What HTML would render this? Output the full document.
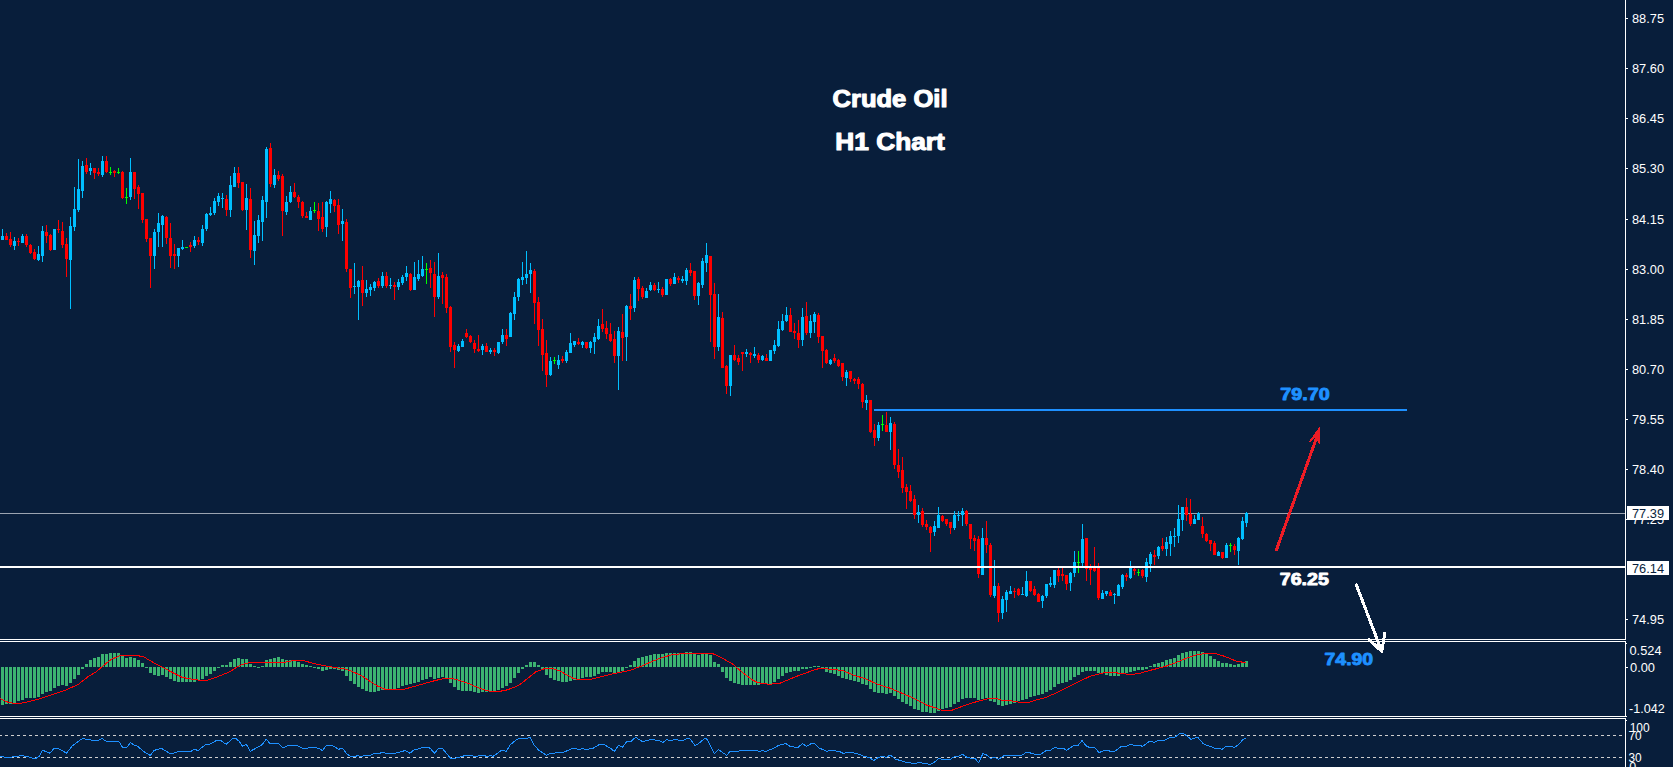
<!DOCTYPE html>
<html lang="en"><head><meta charset="utf-8"><title>Crude Oil H1 Chart</title>
<style>
html,body{margin:0;padding:0;background:#081e3b;overflow:hidden}
svg{display:block}
text{font-family:"Liberation Sans",sans-serif}
.ax{font-size:12.5px;fill:#fff}
.axd{font-size:12.5px;fill:#0a1f3c}
.hv{font-weight:bold;stroke-linejoin:round}
</style></head><body>
<svg width="1673" height="767" viewBox="0 0 1673 767">
<rect width="1673" height="767" fill="#081e3b"/>
<rect x="0" y="513" width="1625" height="1" fill="#9ba4b1" shape-rendering="crispEdges"/>
<g fill="#00bfff" shape-rendering="crispEdges">
<rect x="2" y="229" width="1" height="11"/>
<rect x="1" y="236" width="3" height="4"/>
<rect x="14" y="237" width="1" height="13"/>
<rect x="13" y="241" width="3" height="5"/>
<rect x="22" y="234" width="1" height="9"/>
<rect x="21" y="236" width="3" height="7"/>
<rect x="38" y="246" width="1" height="15"/>
<rect x="37" y="254" width="3" height="6"/>
<rect x="42" y="226" width="1" height="36"/>
<rect x="41" y="231" width="3" height="25"/>
<rect x="53" y="229" width="3" height="21"/>
<rect x="70" y="217" width="1" height="92"/>
<rect x="69" y="226" width="3" height="34"/>
<rect x="74" y="187" width="1" height="44"/>
<rect x="73" y="209" width="3" height="18"/>
<rect x="78" y="159" width="1" height="53"/>
<rect x="77" y="189" width="3" height="21"/>
<rect x="82" y="161" width="1" height="37"/>
<rect x="81" y="166" width="3" height="25"/>
<rect x="90" y="163" width="1" height="12"/>
<rect x="89" y="168" width="3" height="3"/>
<rect x="102" y="156" width="1" height="21"/>
<rect x="101" y="161" width="3" height="14"/>
<rect x="130" y="158" width="1" height="42"/>
<rect x="129" y="172" width="3" height="25"/>
<rect x="154" y="229" width="1" height="40"/>
<rect x="153" y="232" width="3" height="24"/>
<rect x="158" y="213" width="1" height="34"/>
<rect x="157" y="223" width="3" height="9"/>
<rect x="162" y="215" width="1" height="32"/>
<rect x="161" y="216" width="3" height="9"/>
<rect x="178" y="248" width="1" height="19"/>
<rect x="177" y="248" width="3" height="8"/>
<rect x="182" y="240" width="1" height="10"/>
<rect x="181" y="247" width="3" height="2"/>
<rect x="194" y="236" width="1" height="12"/>
<rect x="193" y="240" width="3" height="6"/>
<rect x="202" y="225" width="1" height="21"/>
<rect x="201" y="229" width="3" height="14"/>
<rect x="206" y="213" width="1" height="18"/>
<rect x="205" y="214" width="3" height="15"/>
<rect x="210" y="207" width="1" height="9"/>
<rect x="209" y="213" width="3" height="2"/>
<rect x="214" y="198" width="1" height="17"/>
<rect x="213" y="201" width="3" height="12"/>
<rect x="218" y="193" width="1" height="13"/>
<rect x="217" y="196" width="3" height="6"/>
<rect x="222" y="193" width="1" height="15"/>
<rect x="221" y="198" width="3" height="1"/>
<rect x="230" y="176" width="1" height="41"/>
<rect x="229" y="185" width="3" height="25"/>
<rect x="234" y="167" width="1" height="20"/>
<rect x="233" y="173" width="3" height="14"/>
<rect x="246" y="184" width="1" height="46"/>
<rect x="245" y="198" width="3" height="12"/>
<rect x="254" y="221" width="1" height="44"/>
<rect x="253" y="235" width="3" height="16"/>
<rect x="258" y="215" width="1" height="28"/>
<rect x="257" y="220" width="3" height="16"/>
<rect x="262" y="196" width="1" height="45"/>
<rect x="261" y="200" width="3" height="22"/>
<rect x="266" y="147" width="1" height="71"/>
<rect x="265" y="149" width="3" height="53"/>
<rect x="274" y="169" width="1" height="19"/>
<rect x="273" y="175" width="3" height="10"/>
<rect x="286" y="196" width="1" height="19"/>
<rect x="285" y="202" width="3" height="10"/>
<rect x="290" y="186" width="1" height="17"/>
<rect x="289" y="192" width="3" height="10"/>
<rect x="310" y="207" width="1" height="13"/>
<rect x="309" y="211" width="3" height="9"/>
<rect x="326" y="201" width="1" height="36"/>
<rect x="325" y="202" width="3" height="25"/>
<rect x="330" y="191" width="1" height="22"/>
<rect x="329" y="199" width="3" height="5"/>
<rect x="342" y="209" width="1" height="32"/>
<rect x="341" y="221" width="3" height="3"/>
<rect x="354" y="263" width="1" height="31"/>
<rect x="353" y="286" width="3" height="1"/>
<rect x="358" y="280" width="1" height="40"/>
<rect x="357" y="281" width="3" height="6"/>
<rect x="366" y="280" width="1" height="17"/>
<rect x="365" y="289" width="3" height="4"/>
<rect x="370" y="284" width="1" height="12"/>
<rect x="369" y="287" width="3" height="3"/>
<rect x="374" y="281" width="1" height="10"/>
<rect x="373" y="282" width="3" height="6"/>
<rect x="382" y="272" width="1" height="16"/>
<rect x="381" y="276" width="3" height="10"/>
<rect x="390" y="278" width="1" height="11"/>
<rect x="389" y="285" width="3" height="1"/>
<rect x="398" y="279" width="1" height="11"/>
<rect x="397" y="282" width="3" height="5"/>
<rect x="402" y="275" width="1" height="10"/>
<rect x="401" y="277" width="3" height="6"/>
<rect x="406" y="266" width="1" height="15"/>
<rect x="405" y="273" width="3" height="4"/>
<rect x="414" y="262" width="1" height="28"/>
<rect x="413" y="277" width="3" height="13"/>
<rect x="418" y="260" width="1" height="21"/>
<rect x="417" y="274" width="3" height="5"/>
<rect x="422" y="256" width="1" height="21"/>
<rect x="421" y="269" width="3" height="7"/>
<rect x="438" y="253" width="1" height="46"/>
<rect x="437" y="276" width="3" height="21"/>
<rect x="458" y="344" width="1" height="8"/>
<rect x="457" y="346" width="3" height="5"/>
<rect x="462" y="339" width="1" height="8"/>
<rect x="461" y="341" width="3" height="6"/>
<rect x="482" y="344" width="1" height="11"/>
<rect x="481" y="346" width="3" height="4"/>
<rect x="490" y="348" width="1" height="6"/>
<rect x="489" y="350" width="3" height="2"/>
<rect x="498" y="342" width="1" height="12"/>
<rect x="497" y="342" width="3" height="11"/>
<rect x="502" y="329" width="1" height="15"/>
<rect x="501" y="335" width="3" height="7"/>
<rect x="510" y="312" width="1" height="25"/>
<rect x="509" y="313" width="3" height="24"/>
<rect x="514" y="292" width="1" height="28"/>
<rect x="513" y="297" width="3" height="17"/>
<rect x="518" y="278" width="1" height="23"/>
<rect x="517" y="279" width="3" height="18"/>
<rect x="522" y="262" width="1" height="23"/>
<rect x="521" y="277" width="3" height="3"/>
<rect x="526" y="251" width="1" height="33"/>
<rect x="525" y="274" width="3" height="4"/>
<rect x="530" y="263" width="1" height="30"/>
<rect x="529" y="270" width="3" height="4"/>
<rect x="550" y="357" width="1" height="19"/>
<rect x="549" y="361" width="3" height="14"/>
<rect x="558" y="355" width="1" height="14"/>
<rect x="557" y="360" width="3" height="5"/>
<rect x="566" y="350" width="1" height="13"/>
<rect x="565" y="352" width="3" height="9"/>
<rect x="570" y="333" width="1" height="20"/>
<rect x="569" y="343" width="3" height="10"/>
<rect x="574" y="341" width="1" height="6"/>
<rect x="573" y="341" width="3" height="4"/>
<rect x="582" y="341" width="1" height="7"/>
<rect x="581" y="342" width="3" height="3"/>
<rect x="590" y="341" width="1" height="12"/>
<rect x="589" y="342" width="3" height="6"/>
<rect x="594" y="333" width="1" height="21"/>
<rect x="593" y="337" width="3" height="5"/>
<rect x="598" y="319" width="1" height="21"/>
<rect x="597" y="326" width="3" height="13"/>
<rect x="618" y="327" width="1" height="63"/>
<rect x="617" y="331" width="3" height="25"/>
<rect x="626" y="305" width="1" height="56"/>
<rect x="625" y="306" width="3" height="31"/>
<rect x="634" y="277" width="1" height="35"/>
<rect x="633" y="280" width="3" height="28"/>
<rect x="646" y="288" width="1" height="10"/>
<rect x="645" y="291" width="3" height="7"/>
<rect x="650" y="282" width="1" height="9"/>
<rect x="649" y="285" width="3" height="5"/>
<rect x="658" y="282" width="1" height="11"/>
<rect x="657" y="289" width="3" height="1"/>
<rect x="665" y="279" width="3" height="16"/>
<rect x="674" y="273" width="1" height="11"/>
<rect x="673" y="277" width="3" height="7"/>
<rect x="682" y="276" width="1" height="7"/>
<rect x="681" y="279" width="3" height="2"/>
<rect x="686" y="268" width="1" height="17"/>
<rect x="685" y="270" width="3" height="11"/>
<rect x="698" y="282" width="1" height="23"/>
<rect x="697" y="283" width="3" height="13"/>
<rect x="702" y="258" width="1" height="30"/>
<rect x="701" y="261" width="3" height="24"/>
<rect x="706" y="243" width="1" height="29"/>
<rect x="705" y="255" width="3" height="8"/>
<rect x="718" y="294" width="1" height="57"/>
<rect x="717" y="317" width="3" height="30"/>
<rect x="730" y="355" width="1" height="41"/>
<rect x="729" y="355" width="3" height="31"/>
<rect x="746" y="349" width="1" height="8"/>
<rect x="745" y="352" width="3" height="2"/>
<rect x="754" y="347" width="1" height="11"/>
<rect x="753" y="354" width="3" height="2"/>
<rect x="762" y="355" width="1" height="6"/>
<rect x="761" y="356" width="3" height="4"/>
<rect x="769" y="350" width="3" height="11"/>
<rect x="774" y="340" width="1" height="14"/>
<rect x="773" y="345" width="3" height="6"/>
<rect x="778" y="321" width="1" height="26"/>
<rect x="777" y="329" width="3" height="17"/>
<rect x="782" y="314" width="1" height="17"/>
<rect x="781" y="321" width="3" height="9"/>
<rect x="786" y="307" width="1" height="15"/>
<rect x="785" y="315" width="3" height="6"/>
<rect x="802" y="308" width="1" height="38"/>
<rect x="801" y="317" width="3" height="23"/>
<rect x="810" y="315" width="1" height="23"/>
<rect x="809" y="321" width="3" height="12"/>
<rect x="814" y="312" width="1" height="21"/>
<rect x="813" y="314" width="3" height="8"/>
<rect x="830" y="359" width="1" height="6"/>
<rect x="829" y="360" width="3" height="4"/>
<rect x="846" y="370" width="1" height="16"/>
<rect x="845" y="372" width="3" height="6"/>
<rect x="866" y="395" width="1" height="15"/>
<rect x="865" y="400" width="3" height="3"/>
<rect x="878" y="422" width="1" height="19"/>
<rect x="877" y="425" width="3" height="13"/>
<rect x="890" y="417" width="1" height="33"/>
<rect x="889" y="423" width="3" height="9"/>
<rect x="918" y="505" width="1" height="18"/>
<rect x="917" y="512" width="3" height="3"/>
<rect x="934" y="521" width="1" height="15"/>
<rect x="933" y="526" width="3" height="6"/>
<rect x="938" y="507" width="1" height="21"/>
<rect x="937" y="515" width="3" height="13"/>
<rect x="954" y="511" width="1" height="19"/>
<rect x="953" y="515" width="3" height="13"/>
<rect x="958" y="511" width="1" height="10"/>
<rect x="957" y="515" width="3" height="1"/>
<rect x="962" y="508" width="1" height="18"/>
<rect x="961" y="511" width="3" height="4"/>
<rect x="982" y="528" width="1" height="47"/>
<rect x="981" y="538" width="3" height="37"/>
<rect x="994" y="560" width="1" height="38"/>
<rect x="993" y="586" width="3" height="10"/>
<rect x="1002" y="596" width="1" height="23"/>
<rect x="1001" y="599" width="3" height="14"/>
<rect x="1006" y="590" width="1" height="22"/>
<rect x="1005" y="592" width="3" height="8"/>
<rect x="1010" y="586" width="1" height="8"/>
<rect x="1009" y="591" width="3" height="3"/>
<rect x="1022" y="587" width="1" height="8"/>
<rect x="1021" y="594" width="3" height="1"/>
<rect x="1026" y="571" width="1" height="26"/>
<rect x="1025" y="581" width="3" height="15"/>
<rect x="1042" y="595" width="1" height="13"/>
<rect x="1041" y="596" width="3" height="5"/>
<rect x="1046" y="584" width="1" height="14"/>
<rect x="1045" y="584" width="3" height="12"/>
<rect x="1050" y="577" width="1" height="10"/>
<rect x="1049" y="583" width="3" height="2"/>
<rect x="1054" y="570" width="1" height="18"/>
<rect x="1053" y="570" width="3" height="15"/>
<rect x="1070" y="572" width="1" height="19"/>
<rect x="1069" y="573" width="3" height="10"/>
<rect x="1074" y="551" width="1" height="26"/>
<rect x="1073" y="562" width="3" height="11"/>
<rect x="1082" y="524" width="1" height="42"/>
<rect x="1081" y="539" width="3" height="24"/>
<rect x="1102" y="590" width="1" height="9"/>
<rect x="1101" y="593" width="3" height="6"/>
<rect x="1106" y="591" width="1" height="5"/>
<rect x="1105" y="591" width="3" height="3"/>
<rect x="1114" y="593" width="1" height="11"/>
<rect x="1113" y="594" width="3" height="1"/>
<rect x="1118" y="584" width="1" height="12"/>
<rect x="1117" y="585" width="3" height="11"/>
<rect x="1122" y="574" width="1" height="15"/>
<rect x="1121" y="575" width="3" height="12"/>
<rect x="1130" y="561" width="1" height="18"/>
<rect x="1129" y="568" width="3" height="10"/>
<rect x="1146" y="558" width="1" height="24"/>
<rect x="1145" y="562" width="3" height="15"/>
<rect x="1150" y="552" width="1" height="20"/>
<rect x="1149" y="554" width="3" height="10"/>
<rect x="1158" y="546" width="1" height="13"/>
<rect x="1157" y="547" width="3" height="9"/>
<rect x="1166" y="537" width="1" height="19"/>
<rect x="1165" y="542" width="3" height="7"/>
<rect x="1170" y="531" width="1" height="25"/>
<rect x="1169" y="536" width="3" height="8"/>
<rect x="1174" y="528" width="1" height="19"/>
<rect x="1173" y="536" width="3" height="1"/>
<rect x="1178" y="505" width="1" height="38"/>
<rect x="1177" y="519" width="3" height="17"/>
<rect x="1182" y="507" width="1" height="24"/>
<rect x="1181" y="507" width="3" height="13"/>
<rect x="1194" y="515" width="1" height="9"/>
<rect x="1193" y="519" width="3" height="5"/>
<rect x="1198" y="512" width="1" height="8"/>
<rect x="1197" y="513" width="3" height="7"/>
<rect x="1218" y="551" width="1" height="5"/>
<rect x="1217" y="552" width="3" height="4"/>
<rect x="1226" y="543" width="1" height="15"/>
<rect x="1225" y="545" width="3" height="13"/>
<rect x="1238" y="537" width="1" height="28"/>
<rect x="1237" y="538" width="3" height="13"/>
<rect x="1242" y="517" width="1" height="23"/>
<rect x="1241" y="521" width="3" height="18"/>
<rect x="1246" y="512" width="1" height="15"/>
<rect x="1245" y="513" width="3" height="10"/>
</g>
<g fill="#ff0000" shape-rendering="crispEdges">
<rect x="6" y="233" width="1" height="7"/>
<rect x="5" y="236" width="3" height="4"/>
<rect x="10" y="232" width="1" height="15"/>
<rect x="9" y="239" width="3" height="6"/>
<rect x="18" y="238" width="1" height="8"/>
<rect x="17" y="241" width="3" height="1"/>
<rect x="26" y="234" width="1" height="13"/>
<rect x="25" y="236" width="3" height="9"/>
<rect x="30" y="244" width="1" height="10"/>
<rect x="29" y="245" width="3" height="8"/>
<rect x="34" y="249" width="1" height="11"/>
<rect x="33" y="252" width="3" height="7"/>
<rect x="46" y="225" width="1" height="18"/>
<rect x="45" y="232" width="3" height="4"/>
<rect x="50" y="234" width="1" height="17"/>
<rect x="49" y="235" width="3" height="15"/>
<rect x="58" y="220" width="1" height="13"/>
<rect x="57" y="229" width="3" height="1"/>
<rect x="62" y="222" width="1" height="26"/>
<rect x="61" y="231" width="3" height="14"/>
<rect x="66" y="238" width="1" height="39"/>
<rect x="65" y="244" width="3" height="15"/>
<rect x="86" y="158" width="1" height="16"/>
<rect x="85" y="165" width="3" height="7"/>
<rect x="94" y="168" width="1" height="11"/>
<rect x="93" y="168" width="3" height="5"/>
<rect x="98" y="168" width="1" height="8"/>
<rect x="97" y="172" width="3" height="2"/>
<rect x="106" y="156" width="1" height="17"/>
<rect x="105" y="161" width="3" height="11"/>
<rect x="114" y="170" width="1" height="7"/>
<rect x="113" y="171" width="3" height="2"/>
<rect x="122" y="171" width="1" height="28"/>
<rect x="121" y="172" width="3" height="26"/>
<rect x="134" y="172" width="1" height="27"/>
<rect x="133" y="172" width="3" height="17"/>
<rect x="138" y="185" width="1" height="24"/>
<rect x="137" y="187" width="3" height="7"/>
<rect x="142" y="193" width="1" height="30"/>
<rect x="141" y="193" width="3" height="27"/>
<rect x="146" y="219" width="1" height="23"/>
<rect x="145" y="219" width="3" height="20"/>
<rect x="150" y="238" width="1" height="50"/>
<rect x="149" y="238" width="3" height="18"/>
<rect x="166" y="216" width="1" height="28"/>
<rect x="165" y="217" width="3" height="21"/>
<rect x="170" y="223" width="1" height="45"/>
<rect x="169" y="238" width="3" height="18"/>
<rect x="174" y="244" width="1" height="25"/>
<rect x="173" y="254" width="3" height="2"/>
<rect x="190" y="242" width="1" height="10"/>
<rect x="189" y="245" width="3" height="2"/>
<rect x="198" y="237" width="1" height="8"/>
<rect x="197" y="240" width="3" height="2"/>
<rect x="226" y="195" width="1" height="21"/>
<rect x="225" y="199" width="3" height="11"/>
<rect x="238" y="167" width="1" height="21"/>
<rect x="237" y="173" width="3" height="10"/>
<rect x="242" y="182" width="1" height="29"/>
<rect x="241" y="182" width="3" height="28"/>
<rect x="250" y="188" width="1" height="70"/>
<rect x="249" y="199" width="3" height="51"/>
<rect x="270" y="143" width="1" height="44"/>
<rect x="269" y="148" width="3" height="36"/>
<rect x="278" y="171" width="1" height="10"/>
<rect x="277" y="175" width="3" height="4"/>
<rect x="282" y="174" width="1" height="62"/>
<rect x="281" y="176" width="3" height="35"/>
<rect x="294" y="183" width="1" height="15"/>
<rect x="293" y="192" width="3" height="5"/>
<rect x="298" y="195" width="1" height="13"/>
<rect x="297" y="197" width="3" height="5"/>
<rect x="302" y="201" width="1" height="17"/>
<rect x="301" y="202" width="3" height="14"/>
<rect x="306" y="212" width="1" height="6"/>
<rect x="305" y="216" width="3" height="2"/>
<rect x="318" y="203" width="1" height="28"/>
<rect x="317" y="211" width="3" height="8"/>
<rect x="322" y="202" width="1" height="30"/>
<rect x="321" y="217" width="3" height="12"/>
<rect x="334" y="199" width="1" height="13"/>
<rect x="333" y="200" width="3" height="6"/>
<rect x="338" y="199" width="1" height="35"/>
<rect x="337" y="205" width="3" height="20"/>
<rect x="346" y="219" width="1" height="53"/>
<rect x="345" y="222" width="3" height="47"/>
<rect x="350" y="269" width="1" height="29"/>
<rect x="349" y="269" width="3" height="19"/>
<rect x="362" y="266" width="1" height="40"/>
<rect x="361" y="280" width="3" height="13"/>
<rect x="378" y="278" width="1" height="10"/>
<rect x="377" y="281" width="3" height="5"/>
<rect x="386" y="272" width="1" height="16"/>
<rect x="385" y="276" width="3" height="10"/>
<rect x="394" y="282" width="1" height="18"/>
<rect x="393" y="285" width="3" height="2"/>
<rect x="410" y="273" width="1" height="18"/>
<rect x="409" y="274" width="3" height="16"/>
<rect x="430" y="260" width="1" height="28"/>
<rect x="429" y="268" width="3" height="5"/>
<rect x="434" y="262" width="1" height="55"/>
<rect x="433" y="274" width="3" height="23"/>
<rect x="442" y="272" width="1" height="32"/>
<rect x="441" y="275" width="3" height="3"/>
<rect x="446" y="274" width="1" height="39"/>
<rect x="445" y="277" width="3" height="31"/>
<rect x="450" y="306" width="1" height="46"/>
<rect x="449" y="307" width="3" height="40"/>
<rect x="454" y="342" width="1" height="26"/>
<rect x="453" y="345" width="3" height="5"/>
<rect x="466" y="329" width="1" height="9"/>
<rect x="465" y="333" width="3" height="4"/>
<rect x="470" y="335" width="1" height="8"/>
<rect x="469" y="336" width="3" height="6"/>
<rect x="474" y="340" width="1" height="13"/>
<rect x="473" y="343" width="3" height="6"/>
<rect x="478" y="335" width="1" height="17"/>
<rect x="477" y="349" width="3" height="2"/>
<rect x="486" y="343" width="1" height="9"/>
<rect x="485" y="346" width="3" height="6"/>
<rect x="494" y="348" width="1" height="8"/>
<rect x="493" y="350" width="3" height="2"/>
<rect x="506" y="329" width="1" height="17"/>
<rect x="505" y="335" width="3" height="4"/>
<rect x="534" y="269" width="1" height="55"/>
<rect x="533" y="271" width="3" height="32"/>
<rect x="538" y="297" width="1" height="49"/>
<rect x="537" y="302" width="3" height="28"/>
<rect x="542" y="319" width="1" height="52"/>
<rect x="541" y="329" width="3" height="26"/>
<rect x="546" y="340" width="1" height="47"/>
<rect x="545" y="353" width="3" height="22"/>
<rect x="562" y="356" width="1" height="7"/>
<rect x="561" y="359" width="3" height="2"/>
<rect x="578" y="338" width="1" height="7"/>
<rect x="577" y="342" width="3" height="2"/>
<rect x="586" y="342" width="1" height="7"/>
<rect x="585" y="342" width="3" height="6"/>
<rect x="602" y="309" width="1" height="23"/>
<rect x="601" y="324" width="3" height="5"/>
<rect x="606" y="321" width="1" height="18"/>
<rect x="605" y="328" width="3" height="6"/>
<rect x="610" y="323" width="1" height="19"/>
<rect x="609" y="334" width="3" height="7"/>
<rect x="614" y="331" width="1" height="32"/>
<rect x="613" y="339" width="3" height="17"/>
<rect x="622" y="314" width="1" height="47"/>
<rect x="621" y="332" width="3" height="6"/>
<rect x="630" y="294" width="1" height="26"/>
<rect x="629" y="306" width="3" height="3"/>
<rect x="638" y="277" width="1" height="24"/>
<rect x="637" y="279" width="3" height="10"/>
<rect x="642" y="286" width="1" height="13"/>
<rect x="641" y="288" width="3" height="9"/>
<rect x="654" y="283" width="1" height="8"/>
<rect x="653" y="285" width="3" height="5"/>
<rect x="662" y="287" width="1" height="10"/>
<rect x="661" y="289" width="3" height="6"/>
<rect x="670" y="278" width="1" height="8"/>
<rect x="669" y="279" width="3" height="5"/>
<rect x="678" y="276" width="1" height="7"/>
<rect x="677" y="278" width="3" height="2"/>
<rect x="690" y="263" width="1" height="13"/>
<rect x="689" y="270" width="3" height="3"/>
<rect x="694" y="271" width="1" height="29"/>
<rect x="693" y="271" width="3" height="25"/>
<rect x="710" y="256" width="1" height="86"/>
<rect x="709" y="256" width="3" height="39"/>
<rect x="714" y="283" width="1" height="76"/>
<rect x="713" y="294" width="3" height="53"/>
<rect x="722" y="312" width="1" height="56"/>
<rect x="721" y="318" width="3" height="50"/>
<rect x="726" y="365" width="1" height="29"/>
<rect x="725" y="366" width="3" height="20"/>
<rect x="734" y="345" width="1" height="16"/>
<rect x="733" y="355" width="3" height="5"/>
<rect x="738" y="355" width="1" height="10"/>
<rect x="737" y="358" width="3" height="4"/>
<rect x="742" y="352" width="1" height="19"/>
<rect x="741" y="352" width="3" height="2"/>
<rect x="750" y="352" width="1" height="11"/>
<rect x="749" y="353" width="3" height="2"/>
<rect x="758" y="353" width="1" height="10"/>
<rect x="757" y="355" width="3" height="5"/>
<rect x="766" y="354" width="1" height="7"/>
<rect x="765" y="358" width="3" height="3"/>
<rect x="790" y="308" width="1" height="24"/>
<rect x="789" y="315" width="3" height="17"/>
<rect x="794" y="323" width="1" height="16"/>
<rect x="793" y="331" width="3" height="2"/>
<rect x="798" y="320" width="1" height="28"/>
<rect x="797" y="333" width="3" height="7"/>
<rect x="806" y="302" width="1" height="33"/>
<rect x="805" y="316" width="3" height="17"/>
<rect x="818" y="313" width="1" height="30"/>
<rect x="817" y="315" width="3" height="22"/>
<rect x="822" y="336" width="1" height="32"/>
<rect x="821" y="336" width="3" height="15"/>
<rect x="826" y="349" width="1" height="15"/>
<rect x="825" y="350" width="3" height="13"/>
<rect x="834" y="354" width="1" height="9"/>
<rect x="833" y="358" width="3" height="3"/>
<rect x="838" y="359" width="1" height="8"/>
<rect x="837" y="360" width="3" height="6"/>
<rect x="842" y="363" width="1" height="18"/>
<rect x="841" y="363" width="3" height="14"/>
<rect x="850" y="371" width="1" height="11"/>
<rect x="849" y="371" width="3" height="8"/>
<rect x="854" y="378" width="1" height="6"/>
<rect x="853" y="379" width="3" height="2"/>
<rect x="858" y="377" width="1" height="12"/>
<rect x="857" y="379" width="3" height="5"/>
<rect x="862" y="383" width="1" height="25"/>
<rect x="861" y="384" width="3" height="18"/>
<rect x="870" y="400" width="1" height="33"/>
<rect x="869" y="400" width="3" height="32"/>
<rect x="874" y="424" width="1" height="22"/>
<rect x="873" y="430" width="3" height="8"/>
<rect x="886" y="412" width="1" height="20"/>
<rect x="885" y="425" width="3" height="7"/>
<rect x="894" y="422" width="1" height="47"/>
<rect x="893" y="424" width="3" height="41"/>
<rect x="898" y="449" width="1" height="29"/>
<rect x="897" y="465" width="3" height="7"/>
<rect x="902" y="457" width="1" height="36"/>
<rect x="901" y="470" width="3" height="18"/>
<rect x="906" y="484" width="1" height="25"/>
<rect x="905" y="487" width="3" height="5"/>
<rect x="910" y="485" width="1" height="17"/>
<rect x="909" y="491" width="3" height="10"/>
<rect x="914" y="495" width="1" height="24"/>
<rect x="913" y="499" width="3" height="16"/>
<rect x="922" y="508" width="1" height="19"/>
<rect x="921" y="511" width="3" height="14"/>
<rect x="926" y="520" width="1" height="10"/>
<rect x="925" y="524" width="3" height="3"/>
<rect x="930" y="526" width="1" height="26"/>
<rect x="929" y="527" width="3" height="6"/>
<rect x="942" y="515" width="1" height="7"/>
<rect x="941" y="516" width="3" height="5"/>
<rect x="946" y="519" width="1" height="7"/>
<rect x="945" y="519" width="3" height="5"/>
<rect x="950" y="522" width="1" height="12"/>
<rect x="949" y="522" width="3" height="6"/>
<rect x="966" y="510" width="1" height="16"/>
<rect x="965" y="511" width="3" height="13"/>
<rect x="970" y="524" width="1" height="25"/>
<rect x="969" y="524" width="3" height="15"/>
<rect x="974" y="535" width="1" height="16"/>
<rect x="973" y="538" width="3" height="3"/>
<rect x="978" y="536" width="1" height="42"/>
<rect x="977" y="539" width="3" height="35"/>
<rect x="986" y="521" width="1" height="32"/>
<rect x="985" y="538" width="3" height="7"/>
<rect x="990" y="543" width="1" height="54"/>
<rect x="989" y="545" width="3" height="50"/>
<rect x="998" y="583" width="1" height="39"/>
<rect x="997" y="586" width="3" height="27"/>
<rect x="1014" y="588" width="1" height="10"/>
<rect x="1013" y="591" width="3" height="1"/>
<rect x="1018" y="588" width="1" height="8"/>
<rect x="1017" y="589" width="3" height="6"/>
<rect x="1030" y="581" width="1" height="11"/>
<rect x="1029" y="581" width="3" height="10"/>
<rect x="1034" y="586" width="1" height="10"/>
<rect x="1033" y="589" width="3" height="6"/>
<rect x="1038" y="593" width="1" height="9"/>
<rect x="1037" y="594" width="3" height="8"/>
<rect x="1058" y="568" width="1" height="14"/>
<rect x="1057" y="570" width="3" height="6"/>
<rect x="1062" y="568" width="1" height="13"/>
<rect x="1061" y="574" width="3" height="2"/>
<rect x="1066" y="575" width="1" height="15"/>
<rect x="1065" y="575" width="3" height="9"/>
<rect x="1086" y="538" width="1" height="43"/>
<rect x="1085" y="538" width="3" height="31"/>
<rect x="1090" y="564" width="1" height="21"/>
<rect x="1089" y="568" width="3" height="2"/>
<rect x="1094" y="547" width="1" height="25"/>
<rect x="1093" y="568" width="3" height="3"/>
<rect x="1098" y="563" width="1" height="37"/>
<rect x="1097" y="568" width="3" height="30"/>
<rect x="1110" y="590" width="1" height="6"/>
<rect x="1109" y="592" width="3" height="4"/>
<rect x="1126" y="573" width="1" height="8"/>
<rect x="1125" y="575" width="3" height="2"/>
<rect x="1134" y="568" width="1" height="7"/>
<rect x="1133" y="569" width="3" height="2"/>
<rect x="1142" y="569" width="1" height="9"/>
<rect x="1141" y="570" width="3" height="6"/>
<rect x="1154" y="550" width="1" height="15"/>
<rect x="1153" y="555" width="3" height="2"/>
<rect x="1162" y="538" width="1" height="13"/>
<rect x="1161" y="546" width="3" height="3"/>
<rect x="1186" y="498" width="1" height="23"/>
<rect x="1185" y="507" width="3" height="8"/>
<rect x="1190" y="499" width="1" height="27"/>
<rect x="1189" y="514" width="3" height="10"/>
<rect x="1202" y="517" width="1" height="21"/>
<rect x="1201" y="526" width="3" height="8"/>
<rect x="1206" y="533" width="1" height="9"/>
<rect x="1205" y="534" width="3" height="7"/>
<rect x="1210" y="540" width="1" height="11"/>
<rect x="1209" y="540" width="3" height="4"/>
<rect x="1214" y="541" width="1" height="14"/>
<rect x="1213" y="543" width="3" height="12"/>
<rect x="1222" y="552" width="1" height="7"/>
<rect x="1221" y="552" width="3" height="6"/>
<rect x="1234" y="544" width="1" height="11"/>
<rect x="1233" y="546" width="3" height="4"/>
</g>
<g fill="#00ff00" shape-rendering="crispEdges">
<rect x="110" y="167" width="1" height="8"/>
<rect x="109" y="172" width="3" height="1"/>
<rect x="118" y="168" width="1" height="6"/>
<rect x="117" y="172" width="3" height="1"/>
<rect x="126" y="188" width="1" height="16"/>
<rect x="125" y="197" width="3" height="1"/>
<rect x="185" y="247" width="3" height="1"/>
<rect x="314" y="202" width="1" height="11"/>
<rect x="313" y="210" width="3" height="1"/>
<rect x="426" y="263" width="1" height="21"/>
<rect x="425" y="269" width="3" height="1"/>
<rect x="554" y="357" width="1" height="7"/>
<rect x="553" y="360" width="3" height="1"/>
<rect x="882" y="415" width="1" height="16"/>
<rect x="881" y="424" width="3" height="1"/>
<rect x="1078" y="551" width="1" height="22"/>
<rect x="1077" y="562" width="3" height="1"/>
<rect x="1138" y="569" width="1" height="7"/>
<rect x="1137" y="572" width="3" height="1"/>
<rect x="1230" y="543" width="1" height="9"/>
<rect x="1229" y="545" width="3" height="1"/>
</g>
<g fill="#3cb371" shape-rendering="crispEdges">
<rect x="1" y="667" width="3" height="38"/>
<rect x="5" y="667" width="3" height="37"/>
<rect x="9" y="667" width="3" height="37"/>
<rect x="13" y="667" width="3" height="36"/>
<rect x="17" y="667" width="3" height="34"/>
<rect x="21" y="667" width="3" height="33"/>
<rect x="25" y="667" width="3" height="31"/>
<rect x="29" y="667" width="3" height="31"/>
<rect x="33" y="667" width="3" height="31"/>
<rect x="37" y="667" width="3" height="30"/>
<rect x="41" y="667" width="3" height="27"/>
<rect x="45" y="667" width="3" height="25"/>
<rect x="49" y="667" width="3" height="24"/>
<rect x="53" y="667" width="3" height="21"/>
<rect x="57" y="667" width="3" height="19"/>
<rect x="61" y="667" width="3" height="18"/>
<rect x="65" y="667" width="3" height="19"/>
<rect x="69" y="667" width="3" height="16"/>
<rect x="73" y="667" width="3" height="12"/>
<rect x="77" y="667" width="3" height="8"/>
<rect x="81" y="667" width="3" height="2"/>
<rect x="85" y="664" width="3" height="3"/>
<rect x="89" y="660" width="3" height="7"/>
<rect x="93" y="658" width="3" height="9"/>
<rect x="97" y="657" width="3" height="10"/>
<rect x="101" y="654" width="3" height="13"/>
<rect x="105" y="654" width="3" height="13"/>
<rect x="109" y="653" width="3" height="14"/>
<rect x="113" y="653" width="3" height="14"/>
<rect x="117" y="653" width="3" height="14"/>
<rect x="121" y="655" width="3" height="12"/>
<rect x="125" y="658" width="3" height="9"/>
<rect x="129" y="657" width="3" height="10"/>
<rect x="133" y="658" width="3" height="9"/>
<rect x="137" y="660" width="3" height="7"/>
<rect x="141" y="663" width="3" height="4"/>
<rect x="145" y="667" width="3" height="1"/>
<rect x="149" y="667" width="3" height="6"/>
<rect x="153" y="667" width="3" height="8"/>
<rect x="157" y="667" width="3" height="9"/>
<rect x="161" y="667" width="3" height="8"/>
<rect x="165" y="667" width="3" height="10"/>
<rect x="169" y="667" width="3" height="12"/>
<rect x="173" y="667" width="3" height="14"/>
<rect x="177" y="667" width="3" height="15"/>
<rect x="181" y="667" width="3" height="15"/>
<rect x="185" y="667" width="3" height="15"/>
<rect x="189" y="667" width="3" height="15"/>
<rect x="193" y="667" width="3" height="15"/>
<rect x="197" y="667" width="3" height="13"/>
<rect x="201" y="667" width="3" height="12"/>
<rect x="205" y="667" width="3" height="9"/>
<rect x="209" y="667" width="3" height="7"/>
<rect x="213" y="667" width="3" height="4"/>
<rect x="217" y="667" width="3" height="1"/>
<rect x="221" y="665" width="3" height="2"/>
<rect x="225" y="665" width="3" height="2"/>
<rect x="229" y="662" width="3" height="5"/>
<rect x="233" y="659" width="3" height="8"/>
<rect x="237" y="658" width="3" height="9"/>
<rect x="241" y="659" width="3" height="8"/>
<rect x="245" y="659" width="3" height="8"/>
<rect x="249" y="664" width="3" height="3"/>
<rect x="253" y="666" width="3" height="1"/>
<rect x="257" y="667" width="3" height="1"/>
<rect x="261" y="666" width="3" height="1"/>
<rect x="265" y="660" width="3" height="7"/>
<rect x="269" y="659" width="3" height="8"/>
<rect x="273" y="658" width="3" height="9"/>
<rect x="277" y="657" width="3" height="10"/>
<rect x="281" y="659" width="3" height="8"/>
<rect x="285" y="660" width="3" height="7"/>
<rect x="289" y="660" width="3" height="7"/>
<rect x="293" y="661" width="3" height="6"/>
<rect x="297" y="662" width="3" height="5"/>
<rect x="301" y="664" width="3" height="3"/>
<rect x="305" y="665" width="3" height="2"/>
<rect x="309" y="666" width="3" height="1"/>
<rect x="313" y="667" width="3" height="1"/>
<rect x="317" y="667" width="3" height="2"/>
<rect x="321" y="667" width="3" height="4"/>
<rect x="325" y="667" width="3" height="3"/>
<rect x="329" y="667" width="3" height="2"/>
<rect x="333" y="667" width="3" height="2"/>
<rect x="337" y="667" width="3" height="3"/>
<rect x="341" y="667" width="3" height="4"/>
<rect x="345" y="667" width="3" height="9"/>
<rect x="349" y="667" width="3" height="14"/>
<rect x="353" y="667" width="3" height="17"/>
<rect x="357" y="667" width="3" height="20"/>
<rect x="361" y="667" width="3" height="22"/>
<rect x="365" y="667" width="3" height="24"/>
<rect x="369" y="667" width="3" height="25"/>
<rect x="373" y="667" width="3" height="25"/>
<rect x="377" y="667" width="3" height="24"/>
<rect x="381" y="667" width="3" height="23"/>
<rect x="385" y="667" width="3" height="22"/>
<rect x="389" y="667" width="3" height="22"/>
<rect x="393" y="667" width="3" height="22"/>
<rect x="397" y="667" width="3" height="21"/>
<rect x="401" y="667" width="3" height="19"/>
<rect x="405" y="667" width="3" height="18"/>
<rect x="409" y="667" width="3" height="17"/>
<rect x="413" y="667" width="3" height="16"/>
<rect x="417" y="667" width="3" height="15"/>
<rect x="421" y="667" width="3" height="13"/>
<rect x="425" y="667" width="3" height="12"/>
<rect x="429" y="667" width="3" height="10"/>
<rect x="433" y="667" width="3" height="12"/>
<rect x="437" y="667" width="3" height="11"/>
<rect x="441" y="667" width="3" height="10"/>
<rect x="445" y="667" width="3" height="12"/>
<rect x="449" y="667" width="3" height="16"/>
<rect x="453" y="667" width="3" height="20"/>
<rect x="457" y="667" width="3" height="23"/>
<rect x="461" y="667" width="3" height="24"/>
<rect x="465" y="667" width="3" height="24"/>
<rect x="469" y="667" width="3" height="24"/>
<rect x="473" y="667" width="3" height="25"/>
<rect x="477" y="667" width="3" height="26"/>
<rect x="481" y="667" width="3" height="25"/>
<rect x="485" y="667" width="3" height="25"/>
<rect x="489" y="667" width="3" height="24"/>
<rect x="493" y="667" width="3" height="24"/>
<rect x="497" y="667" width="3" height="23"/>
<rect x="501" y="667" width="3" height="21"/>
<rect x="505" y="667" width="3" height="19"/>
<rect x="509" y="667" width="3" height="16"/>
<rect x="513" y="667" width="3" height="11"/>
<rect x="517" y="667" width="3" height="6"/>
<rect x="521" y="667" width="3" height="2"/>
<rect x="525" y="665" width="3" height="2"/>
<rect x="529" y="662" width="3" height="5"/>
<rect x="533" y="662" width="3" height="5"/>
<rect x="537" y="665" width="3" height="2"/>
<rect x="541" y="667" width="3" height="2"/>
<rect x="545" y="667" width="3" height="8"/>
<rect x="549" y="667" width="3" height="11"/>
<rect x="553" y="667" width="3" height="13"/>
<rect x="557" y="667" width="3" height="14"/>
<rect x="561" y="667" width="3" height="15"/>
<rect x="565" y="667" width="3" height="15"/>
<rect x="569" y="667" width="3" height="14"/>
<rect x="573" y="667" width="3" height="13"/>
<rect x="577" y="667" width="3" height="12"/>
<rect x="581" y="667" width="3" height="11"/>
<rect x="585" y="667" width="3" height="10"/>
<rect x="589" y="667" width="3" height="10"/>
<rect x="593" y="667" width="3" height="9"/>
<rect x="597" y="667" width="3" height="7"/>
<rect x="601" y="667" width="3" height="5"/>
<rect x="605" y="667" width="3" height="5"/>
<rect x="609" y="667" width="3" height="5"/>
<rect x="613" y="667" width="3" height="6"/>
<rect x="617" y="667" width="3" height="5"/>
<rect x="621" y="667" width="3" height="4"/>
<rect x="625" y="667" width="3" height="1"/>
<rect x="629" y="665" width="3" height="2"/>
<rect x="633" y="661" width="3" height="6"/>
<rect x="637" y="658" width="3" height="9"/>
<rect x="641" y="657" width="3" height="10"/>
<rect x="645" y="656" width="3" height="11"/>
<rect x="649" y="655" width="3" height="12"/>
<rect x="653" y="654" width="3" height="13"/>
<rect x="657" y="654" width="3" height="13"/>
<rect x="661" y="654" width="3" height="13"/>
<rect x="665" y="653" width="3" height="14"/>
<rect x="669" y="653" width="3" height="14"/>
<rect x="673" y="653" width="3" height="14"/>
<rect x="677" y="653" width="3" height="14"/>
<rect x="681" y="653" width="3" height="14"/>
<rect x="685" y="652" width="3" height="15"/>
<rect x="689" y="652" width="3" height="15"/>
<rect x="693" y="653" width="3" height="14"/>
<rect x="697" y="655" width="3" height="12"/>
<rect x="701" y="654" width="3" height="13"/>
<rect x="705" y="654" width="3" height="13"/>
<rect x="709" y="655" width="3" height="12"/>
<rect x="713" y="662" width="3" height="5"/>
<rect x="717" y="664" width="3" height="3"/>
<rect x="721" y="667" width="3" height="5"/>
<rect x="725" y="667" width="3" height="11"/>
<rect x="729" y="667" width="3" height="14"/>
<rect x="733" y="667" width="3" height="16"/>
<rect x="737" y="667" width="3" height="17"/>
<rect x="741" y="667" width="3" height="18"/>
<rect x="745" y="667" width="3" height="18"/>
<rect x="749" y="667" width="3" height="18"/>
<rect x="753" y="667" width="3" height="18"/>
<rect x="757" y="667" width="3" height="18"/>
<rect x="761" y="667" width="3" height="17"/>
<rect x="765" y="667" width="3" height="17"/>
<rect x="769" y="667" width="3" height="17"/>
<rect x="773" y="667" width="3" height="15"/>
<rect x="777" y="667" width="3" height="12"/>
<rect x="781" y="667" width="3" height="9"/>
<rect x="785" y="667" width="3" height="6"/>
<rect x="789" y="667" width="3" height="5"/>
<rect x="793" y="667" width="3" height="4"/>
<rect x="797" y="667" width="3" height="4"/>
<rect x="801" y="667" width="3" height="2"/>
<rect x="805" y="667" width="3" height="2"/>
<rect x="809" y="667" width="3" height="1"/>
<rect x="813" y="666" width="3" height="1"/>
<rect x="817" y="666" width="3" height="1"/>
<rect x="821" y="667" width="3" height="1"/>
<rect x="825" y="667" width="3" height="5"/>
<rect x="829" y="667" width="3" height="6"/>
<rect x="833" y="667" width="3" height="7"/>
<rect x="837" y="667" width="3" height="9"/>
<rect x="841" y="667" width="3" height="11"/>
<rect x="845" y="667" width="3" height="12"/>
<rect x="849" y="667" width="3" height="13"/>
<rect x="853" y="667" width="3" height="14"/>
<rect x="857" y="667" width="3" height="15"/>
<rect x="861" y="667" width="3" height="17"/>
<rect x="865" y="667" width="3" height="18"/>
<rect x="869" y="667" width="3" height="22"/>
<rect x="873" y="667" width="3" height="25"/>
<rect x="877" y="667" width="3" height="26"/>
<rect x="881" y="667" width="3" height="26"/>
<rect x="885" y="667" width="3" height="27"/>
<rect x="889" y="667" width="3" height="26"/>
<rect x="893" y="667" width="3" height="29"/>
<rect x="897" y="667" width="3" height="32"/>
<rect x="901" y="667" width="3" height="35"/>
<rect x="905" y="667" width="3" height="37"/>
<rect x="909" y="667" width="3" height="39"/>
<rect x="913" y="667" width="3" height="42"/>
<rect x="917" y="667" width="3" height="43"/>
<rect x="921" y="667" width="3" height="45"/>
<rect x="925" y="667" width="3" height="45"/>
<rect x="929" y="667" width="3" height="46"/>
<rect x="933" y="667" width="3" height="46"/>
<rect x="937" y="667" width="3" height="44"/>
<rect x="941" y="667" width="3" height="42"/>
<rect x="945" y="667" width="3" height="41"/>
<rect x="949" y="667" width="3" height="40"/>
<rect x="953" y="667" width="3" height="37"/>
<rect x="957" y="667" width="3" height="35"/>
<rect x="961" y="667" width="3" height="32"/>
<rect x="965" y="667" width="3" height="31"/>
<rect x="969" y="667" width="3" height="31"/>
<rect x="973" y="667" width="3" height="31"/>
<rect x="977" y="667" width="3" height="33"/>
<rect x="981" y="667" width="3" height="32"/>
<rect x="985" y="667" width="3" height="31"/>
<rect x="989" y="667" width="3" height="34"/>
<rect x="993" y="667" width="3" height="35"/>
<rect x="997" y="667" width="3" height="38"/>
<rect x="1001" y="667" width="3" height="39"/>
<rect x="1005" y="667" width="3" height="38"/>
<rect x="1009" y="667" width="3" height="37"/>
<rect x="1013" y="667" width="3" height="36"/>
<rect x="1017" y="667" width="3" height="34"/>
<rect x="1021" y="667" width="3" height="33"/>
<rect x="1025" y="667" width="3" height="32"/>
<rect x="1029" y="667" width="3" height="30"/>
<rect x="1033" y="667" width="3" height="29"/>
<rect x="1037" y="667" width="3" height="28"/>
<rect x="1041" y="667" width="3" height="27"/>
<rect x="1045" y="667" width="3" height="25"/>
<rect x="1049" y="667" width="3" height="23"/>
<rect x="1053" y="667" width="3" height="20"/>
<rect x="1057" y="667" width="3" height="17"/>
<rect x="1061" y="667" width="3" height="16"/>
<rect x="1065" y="667" width="3" height="15"/>
<rect x="1069" y="667" width="3" height="13"/>
<rect x="1073" y="667" width="3" height="10"/>
<rect x="1077" y="667" width="3" height="8"/>
<rect x="1081" y="667" width="3" height="5"/>
<rect x="1085" y="667" width="3" height="4"/>
<rect x="1089" y="667" width="3" height="4"/>
<rect x="1093" y="667" width="3" height="4"/>
<rect x="1097" y="667" width="3" height="6"/>
<rect x="1101" y="667" width="3" height="6"/>
<rect x="1105" y="667" width="3" height="8"/>
<rect x="1109" y="667" width="3" height="9"/>
<rect x="1113" y="667" width="3" height="9"/>
<rect x="1117" y="667" width="3" height="9"/>
<rect x="1121" y="667" width="3" height="7"/>
<rect x="1125" y="667" width="3" height="6"/>
<rect x="1129" y="667" width="3" height="5"/>
<rect x="1133" y="667" width="3" height="4"/>
<rect x="1137" y="667" width="3" height="3"/>
<rect x="1141" y="667" width="3" height="3"/>
<rect x="1145" y="667" width="3" height="2"/>
<rect x="1149" y="666" width="3" height="1"/>
<rect x="1153" y="664" width="3" height="3"/>
<rect x="1157" y="663" width="3" height="4"/>
<rect x="1161" y="662" width="3" height="5"/>
<rect x="1165" y="660" width="3" height="7"/>
<rect x="1169" y="659" width="3" height="8"/>
<rect x="1173" y="658" width="3" height="9"/>
<rect x="1177" y="655" width="3" height="12"/>
<rect x="1181" y="653" width="3" height="14"/>
<rect x="1185" y="652" width="3" height="15"/>
<rect x="1189" y="651" width="3" height="16"/>
<rect x="1193" y="651" width="3" height="16"/>
<rect x="1197" y="651" width="3" height="16"/>
<rect x="1201" y="652" width="3" height="15"/>
<rect x="1205" y="653" width="3" height="14"/>
<rect x="1209" y="656" width="3" height="11"/>
<rect x="1213" y="659" width="3" height="8"/>
<rect x="1217" y="661" width="3" height="6"/>
<rect x="1221" y="663" width="3" height="4"/>
<rect x="1225" y="663" width="3" height="4"/>
<rect x="1229" y="664" width="3" height="3"/>
<rect x="1233" y="665" width="3" height="2"/>
<rect x="1237" y="664" width="3" height="3"/>
<rect x="1241" y="662" width="3" height="5"/>
<rect x="1245" y="661" width="3" height="6"/>
</g>
<polyline fill="none" stroke="#ff0000" stroke-width="1" shape-rendering="crispEdges" points="0.0,698.3 6.3,701.7 14.0,703.6 18.8,703.6 28.2,701.7 40.7,698.6 53.2,694.2 65.7,690.0 78.2,684.5 87.6,677.0 95.5,672.3 103.3,665.7 111.0,659.5 119.0,656.0 125.0,655.2 136.0,655.2 144.0,657.0 153.4,662.6 162.8,667.3 172.0,672.3 181.5,677.0 187.8,678.6 195.6,679.5 200.0,680.4 206.6,680.4 212.8,678.6 222.0,675.0 230.0,671.7 237.9,666.5 244.0,663.9 250.4,662.6 260.0,662.6 283.5,662.6 293.0,660.6 304.0,660.6 313.0,663.4 326.0,666.0 338.0,668.0 346.0,669.2 354.0,672.3 362.0,676.0 369.5,681.0 377.4,686.0 385.0,689.2 393.0,689.7 402.4,689.7 410.0,687.6 422.8,684.0 435.0,680.6 444.7,678.3 451.0,678.3 460.0,680.6 469.7,684.0 479.0,688.0 488.5,691.0 498.0,691.6 505.7,690.3 513.5,687.6 520.0,684.5 527.8,678.3 535.6,672.0 543.5,669.0 551.0,668.0 559.0,670.5 567.0,674.9 573.0,678.3 578.0,679.5 590.4,679.5 598.0,677.5 614.0,673.6 629.5,670.5 642.0,666.0 653.0,661.0 664.0,656.9 673.4,654.5 682.8,653.6 712.5,653.6 720.0,656.9 732.8,664.2 742.0,672.0 751.6,679.5 758.0,682.7 764.0,683.8 770.4,684.2 780.0,683.2 795.6,676.7 811.3,671.0 820.7,668.0 830.0,669.2 842.6,670.5 853.5,675.2 866.0,679.0 877.0,684.0 889.5,688.0 902.0,693.2 914.6,698.6 927.0,705.2 936.5,708.3 942.0,710.4 951.4,710.4 960.0,707.2 971.0,703.3 982.0,700.2 989.7,698.3 996.0,698.3 1002.0,700.2 1008.5,700.5 1017.9,702.0 1030.4,702.0 1036.7,699.9 1040.0,699.0 1044.7,697.9 1055.6,693.2 1071.3,685.3 1090.0,676.3 1104.0,672.8 1113.5,672.4 1121.4,673.6 1130.8,674.4 1138.6,673.6 1149.5,670.5 1165.0,666.6 1177.7,661.9 1187.0,658.0 1198.0,654.5 1205.9,653.6 1216.0,653.6 1224.7,656.4 1237.0,661.4 1245.8,662.6"/>
<g stroke="#cfcfcf" stroke-width="1" stroke-dasharray="3 3" shape-rendering="crispEdges">
<line x1="-1" y1="735.5" x2="1625" y2="735.5"/>
<line x1="-1" y1="757.5" x2="1625" y2="757.5"/>
</g>
<polyline fill="none" stroke="#1e90ff" stroke-width="1" shape-rendering="crispEdges" points="0.0,756.7 9.3,757.5 21.8,755.5 28.0,756.7 34.2,758.6 38.5,757.5 42.3,750.5 45.8,751.3 50.0,753.2 54.0,748.5 58.3,748.5 66.5,753.2 72.3,745.9 82.4,738.5 87.0,739.3 93.2,740.4 97.9,740.4 101.8,738.5 106.9,741.5 118.9,741.5 122.8,747.7 126.7,747.4 130.5,742.7 134.0,745.0 137.5,746.2 144.5,752.0 150.3,755.5 153.8,750.8 157.0,749.3 161.6,748.5 169.4,753.2 172.5,753.6 177.9,751.6 190.4,751.6 194.3,749.3 198.1,750.5 205.1,745.0 209.8,744.3 216.0,740.7 220.7,740.4 226.1,744.3 232.3,738.9 236.2,738.9 239.3,741.5 242.4,746.2 246.3,744.3 250.2,751.3 260.0,746.0 262.3,744.3 266.2,739.3 270.1,743.5 278.3,743.5 283.0,747.7 288.7,745.4 296.5,745.4 302.7,748.5 306.6,748.5 309.7,747.4 315.9,747.4 319.8,749.0 322.5,750.5 326.5,745.4 332.3,745.4 338.5,749.3 342.4,748.2 347.0,754.0 350.9,756.4 355.6,756.7 357.1,755.5 361.0,756.4 365.7,755.5 370.3,755.2 374.2,753.2 378.1,754.0 382.0,752.4 385.9,753.3 395.2,753.3 399.9,752.0 405.3,750.5 410.0,753.3 414.6,749.3 418.5,749.0 422.4,747.4 428.6,747.4 430.9,749.0 434.4,753.3 438.4,748.5 442.6,748.5 446.5,753.6 450.4,758.0 455.0,758.3 459.7,757.0 465.1,755.6 472.1,755.6 474.5,756.7 480.7,755.6 484.6,755.6 486.9,756.7 490.0,755.6 493.1,756.4 497.0,753.6 500.9,750.8 504.0,750.5 506.3,751.6 510.2,744.8 514.9,740.9 518.0,738.9 520.0,738.3 527.8,738.2 530.0,737.3 534.0,744.8 538.8,750.3 546.6,755.3 550.5,753.4 563.8,752.2 571.6,748.7 575.5,748.4 578.7,749.5 582.6,748.7 586.5,749.5 593.5,748.0 599.8,744.3 604.5,744.8 610.8,748.4 614.4,751.5 618.6,745.3 622.5,747.2 627.0,741.4 631.0,741.4 635.5,737.3 642.8,741.7 650.0,739.6 654.6,740.0 659.3,740.6 662.7,742.5 666.8,739.6 670.5,740.6 675.0,739.6 682.8,740.6 686.7,738.5 689.8,738.5 695.0,745.6 699.0,743.2 703.9,739.0 706.5,738.5 714.5,753.7 718.4,749.5 722.7,752.6 726.6,755.3 730.5,751.0 739.0,751.0 742.0,750.3 756.3,750.3 758.7,751.5 762.6,750.6 766.0,751.5 770.4,749.5 774.3,748.0 778.2,745.6 780.0,744.9 786.0,743.6 790.0,746.4 798.0,747.5 802.4,743.6 806.3,746.4 810.5,744.0 814.0,743.2 819.0,747.9 827.0,751.5 830.0,750.3 839.5,751.5 843.4,753.4 847.3,752.2 856.7,753.4 864.5,756.5 869.0,757.3 873.9,760.5 878.6,757.3 882.5,756.2 886.4,757.3 890.3,755.0 895.0,758.9 905.0,762.0 914.6,763.6 918.5,762.5 930.0,764.4 934.0,762.5 938.8,758.4 942.8,759.4 949.8,759.7 954.5,756.5 958.4,756.2 962.3,754.2 967.0,757.3 970.0,758.0 974.8,758.4 978.7,762.5 983.0,753.4 986.6,755.0 990.5,758.4 995.0,757.3 998.3,759.4 1004.6,755.3 1021.8,755.3 1026.5,752.2 1030.4,753.0 1036.6,754.7 1040.0,754.6 1046.0,750.6 1050.0,750.6 1054.9,747.2 1058.0,748.4 1063.5,748.4 1066.6,750.3 1073.6,745.6 1078.0,745.6 1082.0,740.6 1086.6,746.4 1090.0,747.5 1094.8,747.5 1099.0,752.6 1105.0,750.3 1108.0,750.3 1110.4,751.5 1114.3,751.5 1121.4,746.4 1126.0,746.4 1130.5,744.3 1134.0,745.3 1140.0,745.3 1142.5,746.4 1149.5,741.4 1152.0,741.4 1154.0,742.5 1158.0,740.6 1163.6,740.6 1170.0,737.5 1174.6,737.5 1180.0,733.5 1183.0,733.0 1186.0,735.4 1191.0,739.3 1194.0,738.2 1198.0,737.5 1202.8,743.2 1206.7,745.3 1210.6,746.4 1214.5,748.4 1219.0,748.4 1222.0,749.5 1226.0,746.4 1231.7,746.4 1234.5,747.5 1238.7,744.3 1242.6,740.0 1245.8,738.2"/>
<g shape-rendering="crispEdges">
<rect x="0" y="566" width="1625" height="2" fill="#ffffff"/>
<rect x="874" y="409" width="533" height="2" fill="#1e90ff"/>
<rect x="0" y="639" width="1626" height="1" fill="#ffffff"/>
<rect x="0" y="641" width="1626" height="1" fill="#ffffff"/>
<rect x="0" y="716" width="1626" height="1" fill="#ffffff"/>
<rect x="0" y="718" width="1626" height="1" fill="#ffffff"/>
<rect x="1625" y="0" width="1" height="640" fill="#ffffff"/>
<rect x="1625" y="641" width="1" height="76" fill="#ffffff"/>
<rect x="1626" y="643" width="1" height="1" fill="#ffffff"/>
<rect x="1626" y="716" width="1" height="1" fill="#ffffff"/>
<rect x="1626" y="720" width="1" height="1" fill="#ffffff"/>
<rect x="1625" y="718" width="1" height="49" fill="#ffffff"/>
<rect x="1626" y="18" width="2" height="1" fill="#ffffff"/>
<rect x="1626" y="68" width="2" height="1" fill="#ffffff"/>
<rect x="1626" y="118" width="2" height="1" fill="#ffffff"/>
<rect x="1626" y="168" width="2" height="1" fill="#ffffff"/>
<rect x="1626" y="219" width="2" height="1" fill="#ffffff"/>
<rect x="1626" y="269" width="2" height="1" fill="#ffffff"/>
<rect x="1626" y="319" width="2" height="1" fill="#ffffff"/>
<rect x="1626" y="369" width="2" height="1" fill="#ffffff"/>
<rect x="1626" y="419" width="2" height="1" fill="#ffffff"/>
<rect x="1626" y="469" width="2" height="1" fill="#ffffff"/>
<rect x="1626" y="519" width="2" height="1" fill="#ffffff"/>
<rect x="1626" y="619" width="2" height="1" fill="#ffffff"/>
<rect x="1626" y="667" width="2" height="1" fill="#ffffff"/>
<rect x="1627" y="506" width="42" height="14" fill="#ffffff"/>
<rect x="1627" y="561" width="42" height="14" fill="#ffffff"/>
</g>
<text class="ax" x="1632" y="23.0" textLength="32" lengthAdjust="spacingAndGlyphs">88.75</text>
<text class="ax" x="1632" y="73.0" textLength="32" lengthAdjust="spacingAndGlyphs">87.60</text>
<text class="ax" x="1632" y="123.0" textLength="32" lengthAdjust="spacingAndGlyphs">86.45</text>
<text class="ax" x="1632" y="173.0" textLength="32" lengthAdjust="spacingAndGlyphs">85.30</text>
<text class="ax" x="1632" y="224.0" textLength="32" lengthAdjust="spacingAndGlyphs">84.15</text>
<text class="ax" x="1632" y="274.0" textLength="32" lengthAdjust="spacingAndGlyphs">83.00</text>
<text class="ax" x="1632" y="324.0" textLength="32" lengthAdjust="spacingAndGlyphs">81.85</text>
<text class="ax" x="1632" y="374.0" textLength="32" lengthAdjust="spacingAndGlyphs">80.70</text>
<text class="ax" x="1632" y="424.0" textLength="32" lengthAdjust="spacingAndGlyphs">79.55</text>
<text class="ax" x="1632" y="474.0" textLength="32" lengthAdjust="spacingAndGlyphs">78.40</text>
<text class="ax" x="1632" y="624.0" textLength="32" lengthAdjust="spacingAndGlyphs">74.95</text>
<clipPath id="c1"><rect x="1626" y="520" width="47" height="12"/></clipPath>
<text class="ax" clip-path="url(#c1)" x="1632" y="524" textLength="32" lengthAdjust="spacingAndGlyphs">77.25</text>
<text class="axd" x="1632" y="518" textLength="32" lengthAdjust="spacingAndGlyphs">77.39</text>
<text class="axd" x="1632" y="573" textLength="32" lengthAdjust="spacingAndGlyphs">76.14</text>
<text class="ax" x="1629.5" y="655" textLength="32" lengthAdjust="spacingAndGlyphs">0.524</text>
<text class="ax" x="1630" y="672" textLength="25" lengthAdjust="spacingAndGlyphs">0.00</text>
<text class="ax" x="1629" y="713" textLength="35.7" lengthAdjust="spacingAndGlyphs">-1.042</text>
<text class="ax" x="1629.7" y="731.6" textLength="20" lengthAdjust="spacingAndGlyphs">100</text>
<text class="ax" x="1628.4" y="740" textLength="13.2" lengthAdjust="spacingAndGlyphs">70</text>
<text class="ax" x="1628.4" y="761.8" textLength="13.2" lengthAdjust="spacingAndGlyphs">30</text>
<text class="ax" x="1629.2" y="771" >0</text>
<text class="hv" x="832.5" y="107.2" font-size="24" fill="#fff" stroke="#fff" stroke-width="1.1" textLength="115" lengthAdjust="spacingAndGlyphs">Crude Oil</text>
<text class="hv" x="835.3" y="150" font-size="24" fill="#fff" stroke="#fff" stroke-width="1.1" textLength="109.5" lengthAdjust="spacingAndGlyphs">H1 Chart</text>
<text class="hv" x="1280.3" y="400" font-size="16.5" fill="#1e90ff" stroke="#1e90ff" stroke-width="0.9" textLength="49.4" lengthAdjust="spacingAndGlyphs">79.70</text>
<text class="hv" x="1279.8" y="584.8" font-size="16.5" fill="#fff" stroke="#fff" stroke-width="0.9" textLength="49" lengthAdjust="spacingAndGlyphs">76.25</text>
<text class="hv" x="1324.6" y="665" font-size="16.5" fill="#1e90ff" stroke="#1e90ff" stroke-width="0.9" textLength="48.5" lengthAdjust="spacingAndGlyphs">74.90</text>
<g stroke="#ee1c25" stroke-width="3" fill="none" stroke-linecap="round" shape-rendering="crispEdges">
<line x1="1276.6" y1="549.5" x2="1318.6" y2="432"/>
<polygon points="1319.6,428 1310.2,441.2 1315.8,435.8 1319.2,443" fill="#ee1c25" stroke-width="1.6" stroke-linejoin="round"/>
</g>
<g stroke="#ffffff" stroke-width="3" fill="none" stroke-linecap="round" stroke-linejoin="round" shape-rendering="crispEdges">
<line x1="1356.4" y1="585" x2="1381.4" y2="650.5"/>
<polyline points="1368.8,639.2 1381.8,651.5 1384.8,633"/>
</g>
</svg></body></html>
